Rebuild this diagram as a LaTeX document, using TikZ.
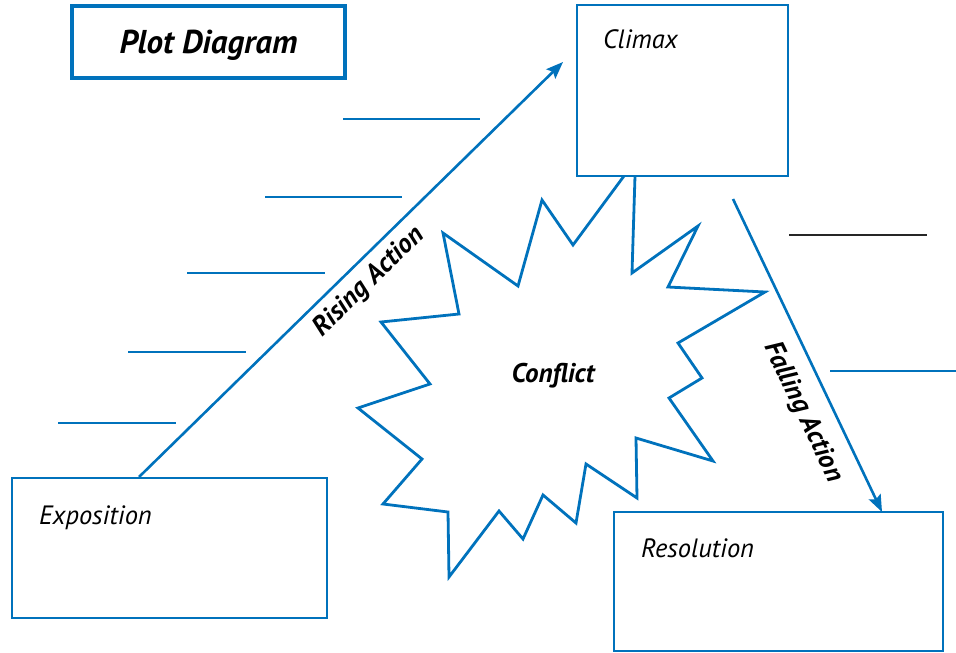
\documentclass[tikz,border=0pt]{standalone}
\usepackage{fontspec}
\setmainfont{PT Sans}
\usetikzlibrary{positioning,arrows.meta,calc}
\definecolor{plotblue}{RGB}{0,114,188}

\tikzset{
	plotbox/.style={draw=plotblue, line width=2.8pt, rectangle, inner sep=0pt},
	blank/.style={draw=plotblue, line width=2.6pt},
	boxtext/.style={font=\fontsize{26.5}{30}\selectfont\itshape, anchor=base west, inner sep=0pt},
	arctext/.style={font=\fontsize{27}{31}\selectfont\bfseries\itshape, inner sep=0pt}
}

\begin{document}
\begin{tikzpicture}[x=1pt,y=-1pt]
	\useasboundingbox (0,0) rectangle (956,653);
	% title and stage boxes
	\node[plotbox, line width=3.8pt, minimum width=273pt, minimum height=72pt, text depth=0pt] (title) at (208.5,42)
		{\fontsize{33}{38}\selectfont\bfseries\itshape Plot Diagram};
	\node[plotbox, minimum width=211pt, minimum height=171pt] (climax) at (682.5,90.5) {};
	\node[plotbox, minimum width=315pt, minimum height=140pt] (expo) at (169.5,548) {};
	\node[plotbox, minimum width=329pt, minimum height=139pt] (reso) at (778.5,581.5) {};
	\node[boxtext] (climaxtxt) at (603,48) {Climax};
	\node[boxtext] (expotxt) at (39,524) {Exposition};
	\node[boxtext] (resotxt) at (641,557) {Resolution};

	% conflict burst
	\draw[plotblue, line width=2.8pt, line join=miter]
		(624,176) -- (573,245) -- (542,200) -- (518,286) -- (443,233) -- (459,314)
		-- (381,322) -- (430,384) -- (358,408) -- (422,459) -- (383,504) -- (448,512)
		-- (449,577) -- (499,511) -- (523,539) -- (543,495) -- (576,523) -- (586,464)
		-- (637,498) -- (636,438) -- (713,461) -- (669,398) -- (702,378) -- (678,343)
		-- (765,292) -- (668,287) -- (698,226) -- (632,273) -- (635,176);
	\node[arctext] (conflict) at (553,376) {Conflict};

	% rising and falling action
	\coordinate (risetop) at (563,62);
	\coordinate (fallstart) at (733,199);
	\draw[blank, -{Stealth[length=17pt, width=13pt, inset=3pt]}] (139,477) -- (risetop);
	\draw[blank, -{Stealth[length=17pt, width=13pt, inset=3pt]}] (fallstart) -- (882,512);
	\node[arctext, rotate=44.4] (rising) at (369,282) {Rising Action};
	\node[arctext, rotate=-64.5] (falling) at (803,412) {Falling Action};

	% answer lines
	\foreach \xa/\xb/\yy in {343/480/119, 265/402/197, 187/325/273, 128/246/352, 58/176/423, 830/956/371}
		\draw[blank] (\xa,\yy) -- (\xb,\yy);
	\draw[line width=2.6pt, black!85] (789,235) -- (927,235);
\end{tikzpicture}
\end{document}
